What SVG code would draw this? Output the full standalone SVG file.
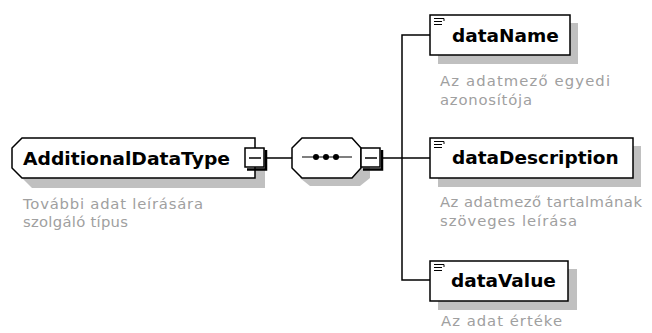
<svg xmlns="http://www.w3.org/2000/svg" width="652" height="333" viewBox="0 0 652 333">
<style>
.box{fill:#fff;stroke:#000;stroke-width:1.5}
.shadow{fill:#c0c0c0}
.name{font-family:"DejaVu Sans",sans-serif;font-weight:bold;font-size:18.5px;fill:#000}
.desc{font-family:"DejaVu Sans",sans-serif;font-size:14.8px;fill:#a0a0a0}
.line{stroke:#000;stroke-width:1.5;fill:none}
.btn{fill:#fff;stroke:#000;stroke-width:1.5}
.icon{stroke:#000;stroke-width:1;fill:none}
</style>
<rect width="652" height="333" fill="#fff"/>
<g id="connectors">
<line class="line" x1="266" y1="158" x2="292" y2="158"/>
<line class="line" x1="383" y1="158" x2="402" y2="158"/>
<polyline class="line" points="431,35 402,35 402,280 431,280"/>
<line class="line" x1="402" y1="158" x2="431" y2="158"/>
</g>
<g id="AdditionalDataType">
<polygon class="shadow" points="32,148 265,148 265,188 32,188 22,178"/>
<polygon class="box" points="22,138 255,138 255,178 22,178 12,168 12,148"/>
<text class="name" x="23" y="165" textLength="207" lengthAdjust="spacingAndGlyphs">AdditionalDataType</text>
<rect class="btn" x="245" y="148" width="19" height="19"/>
<path d="M247,169.5 H266 V150" stroke="#000" stroke-width="2.5" fill="none"/>
<line x1="249" y1="158" x2="261" y2="158" stroke="#000" stroke-width="1.5"/>
<text class="desc" x="23" y="209" textLength="180" lengthAdjust="spacing">További adat leírására</text>
<text class="desc" x="23" y="227" textLength="105" lengthAdjust="spacing">szolgáló típus</text>
</g>
<g id="sequence">
<polygon class="shadow" points="310,148 360,148 370,158 370,178 360,186 310,186 300,178"/>
<polygon class="box" points="302,138 352,138 361,148 361,168 352,178 302,178 292,168 292,148"/>
<line x1="302" y1="157" x2="352" y2="157" stroke="#000" stroke-width="1.2"/>
<circle cx="316" cy="157" r="3"/>
<circle cx="326" cy="157" r="3"/>
<circle cx="336" cy="157" r="3"/>
<rect class="btn" x="361" y="148" width="19" height="19"/>
<path d="M363,169.5 H382 V150" stroke="#000" stroke-width="2.5" fill="none"/>
<line x1="365" y1="158" x2="377" y2="158" stroke="#000" stroke-width="1.5"/>
</g>
<g id="dataName">
<rect class="shadow" x="438" y="23" width="140" height="41"/>
<rect class="box" x="430" y="15" width="140" height="40"/>
<path class="icon" d="M434,18.5 H444 V21 M434,21.5 H442 M434,24.5 H442"/>
<text class="name" x="452" y="42">dataName</text>
<text class="desc" x="440" y="86" textLength="170" lengthAdjust="spacing">Az adatmező egyedi</text>
<text class="desc" x="440" y="105" textLength="92" lengthAdjust="spacing">azonosítója</text>
</g>
<g id="dataDescription">
<rect class="shadow" x="438" y="146" width="203" height="41"/>
<rect class="box" x="430" y="138" width="203" height="40"/>
<path class="icon" d="M434,141.5 H444 V144 M434,144.5 H442 M434,147.5 H442"/>
<text class="name" x="452" y="164">dataDescription</text>
<text class="desc" x="440" y="207" textLength="202" lengthAdjust="spacing">Az adatmező tartalmának</text>
<text class="desc" x="440" y="226" textLength="137" lengthAdjust="spacing">szöveges leírása</text>
</g>
<g id="dataValue">
<rect class="shadow" x="438" y="269" width="139" height="41"/>
<rect class="box" x="430" y="261" width="138" height="40"/>
<path class="icon" d="M434,264.5 H444 V267 M434,267.5 H442 M434,270.5 H442"/>
<text class="name" x="451" y="287">dataValue</text>
<text class="desc" x="441" y="326" textLength="121" lengthAdjust="spacing">Az adat értéke</text>
</g>
</svg>
